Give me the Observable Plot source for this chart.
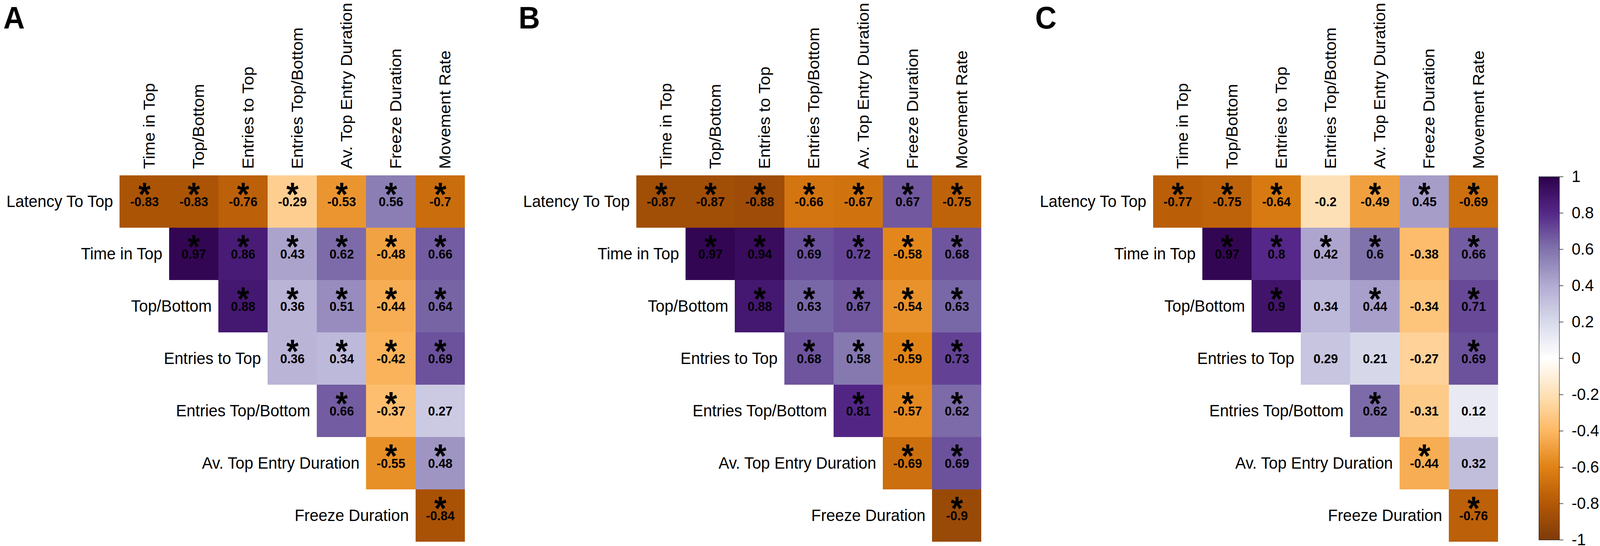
<!DOCTYPE html>
<html>
<head>
<meta charset="utf-8">
<script src="https://cdn.jsdelivr.net/npm/d3@7"></script>
<script src="https://cdn.jsdelivr.net/npm/@observablehq/plot@0.6"></script>
<style>
html, body { margin: 0; padding: 0; background: #fff; overflow: hidden; }
#root { position: relative; width: 4317px; height: 1398px; overflow: hidden; background: #fff;
  font-family: "Liberation Sans", Arial, sans-serif; transform-origin: 0 0; }
.panel { position: absolute; top: 0; }
.letter { position: absolute; top: 6px; font-size: 80px; font-weight: bold; line-height: 80px; color: #000; }
</style>
</head>
<body>
<div id="root"></div>
<script>
// ---------- data ----------
const rows = ["Latency To Top", "Time in Top", "Top/Bottom", "Entries to Top",
  "Entries Top/Bottom", "Av. Top Entry Duration", "Freeze Duration"];
const cols = ["Time in Top", "Top/Bottom", "Entries to Top", "Entries Top/Bottom",
  "Av. Top Entry Duration", "Freeze Duration", "Movement Rate"];
const panelLabels = ["A", "B", "C"];

// upper-triangle correlations: row i starts at column i
const valuesA = [
  [-0.83, -0.83, -0.76, -0.29, -0.53, 0.56, -0.7],
  [0.97, 0.86, 0.43, 0.62, -0.48, 0.66],
  [0.88, 0.36, 0.51, -0.44, 0.64],
  [0.36, 0.34, -0.42, 0.69],
  [0.66, -0.37, 0.27],
  [-0.55, 0.48],
  [-0.84]
];
const sigA = [
  [1, 1, 1, 1, 1, 1, 1],
  [1, 1, 1, 1, 1, 1],
  [1, 1, 1, 1, 1],
  [1, 1, 1, 1],
  [1, 1, 0],
  [1, 1],
  [1]
];
const valuesB = [
  [-0.87, -0.87, -0.88, -0.66, -0.67, 0.67, -0.75],
  [0.97, 0.94, 0.69, 0.72, -0.58, 0.68],
  [0.88, 0.63, 0.67, -0.54, 0.63],
  [0.68, 0.58, -0.59, 0.73],
  [0.81, -0.57, 0.62],
  [-0.69, 0.69],
  [-0.9]
];
const sigB = [
  [1, 1, 1, 1, 1, 1, 1],
  [1, 1, 1, 1, 1, 1],
  [1, 1, 1, 1, 1],
  [1, 1, 1, 1],
  [1, 1, 1],
  [1, 1],
  [1]
];
const valuesC = [
  [-0.77, -0.75, -0.64, -0.2, -0.49, 0.45, -0.69],
  [0.97, 0.8, 0.42, 0.6, -0.38, 0.66],
  [0.9, 0.34, 0.44, -0.34, 0.71],
  [0.29, 0.21, -0.27, 0.69],
  [0.62, -0.31, 0.12],
  [-0.44, 0.32],
  [-0.76]
];
const sigC = [
  [1, 1, 1, 0, 1, 1, 1],
  [1, 1, 1, 1, 0, 1],
  [1, 0, 1, 0, 1],
  [0, 0, 0, 1],
  [1, 0, 0],
  [1, 0],
  [1]
];
const colorTicks = [-1, -0.8, -0.6, -0.4, -0.2, 0, 0.2, 0.4, 0.6, 0.8, 1];

// ---------- style ----------
const palette = ["#7f3b08", "#b35806", "#e08214", "#fdb863", "#fee0b6", "#ffffff",
  "#d8daeb", "#b2abd2", "#8073ac", "#542788", "#2d004b"];
const FONT = "Liberation Sans, Arial, Helvetica, sans-serif";
const W = 4317, H = 1398;
const CELL_W = 133.7, CELL_H = 134, GRID_TOP = 449, ML = 321, MR = 12;
const PANEL_STEP = 1394;
const LETTER_LEFT = [9, 1399, 2793];
const colorScale = {type: "linear", domain: colorTicks, range: palette};

const root = document.getElementById("root");
// fit the 4317-wide layout into the actual viewport width
const sx = Math.min(1, (window.innerWidth || W) / W);
root.style.transform = `scale(${sx}, 1)`;

function buildTable(values, sig) {
  const out = [];
  values.forEach((r, i) => r.forEach((v, k) =>
    out.push({row: rows[i], col: cols[i + k], value: v, sig: sig[i][k] === 1})));
  return out;
}

function panel(values, sig) {
  const data = buildTable(values, sig);
  return Plot.plot({
    width: ML + 7 * CELL_W + MR,
    height: H,
    marginLeft: ML, marginRight: MR, marginTop: GRID_TOP, marginBottom: H - GRID_TOP - 7 * CELL_H,
    x: {domain: cols, padding: 0, axis: null},
    y: {domain: rows, padding: 0, axis: null},
    color: colorScale,
    style: {fontFamily: FONT, overflow: "visible", background: "transparent", maxWidth: "none"},
    marks: [
      Plot.cell(data, {x: "col", y: "row", fill: "value", inset: 0, shapeRendering: "crispEdges"}),
      Plot.text(data, {x: "col", y: "row", text: d => String(d.value), fontSize: 34, fontWeight: "bold", fill: "black", dy: 1}),
      Plot.text(data.filter(d => d.sig), {x: "col", y: "row", text: () => "*", fontSize: 85, fontWeight: "bold", fill: "black", dy: -17}),
      Plot.text(cols, {x: d => d, frameAnchor: "top", rotate: -90, textAnchor: "start", dy: -17, dx: -3, fontSize: 43, fill: "black"}),
      Plot.text(rows, {x: (d, i) => cols[i], y: d => d, textAnchor: "end", dx: -(CELL_W / 2 + 18), fontSize: 43, fill: "black"})
    ]
  });
}

[[valuesA, sigA], [valuesB, sigB], [valuesC, sigC]].forEach(([v, s], p) => {
  const wrap = document.createElement("div");
  wrap.className = "panel";
  wrap.style.left = (p * PANEL_STEP) + "px";
  wrap.appendChild(panel(v, s));
  root.appendChild(wrap);
  const lab = document.createElement("div");
  lab.className = "letter";
  lab.style.left = LETTER_LEFT[p] + "px";
  lab.textContent = panelLabels[p];
  root.appendChild(lab);
});

// ---------- colour bar ----------
const ramp = d3.range(-1, 1, 0.005);
const legend = Plot.plot({
  width: 217, height: H,
  marginLeft: 52, marginRight: 110, marginTop: 452, marginBottom: H - 452 - 930,
  x: {domain: [0, 1], axis: null},
  y: {domain: [-1, 1], axis: null},
  color: colorScale,
  style: {fontFamily: FONT, overflow: "visible", background: "transparent", maxWidth: "none"},
  marks: [
    Plot.rect(ramp, {x1: () => 0, x2: () => 1, y1: d => d, y2: d => Math.min(1, d + 0.0075), fill: d => d + 0.0025, shapeRendering: "crispEdges"}),
    Plot.frame({stroke: "#222", strokeWidth: 1.2}),
    Plot.ruleY(colorTicks, {y: d => d, x1: () => 1, x2: () => 1.2, stroke: "#222", strokeWidth: 1.5}),
    Plot.text(colorTicks, {y: d => d, x: () => 1, dx: 33, textAnchor: "start", text: d => String(d), fontSize: 43, fill: "black"})
  ]
});
const lw = document.createElement("div");
lw.className = "panel";
lw.style.left = "4100px";
lw.appendChild(legend);
root.appendChild(lw);
</script>
</body>
</html>
